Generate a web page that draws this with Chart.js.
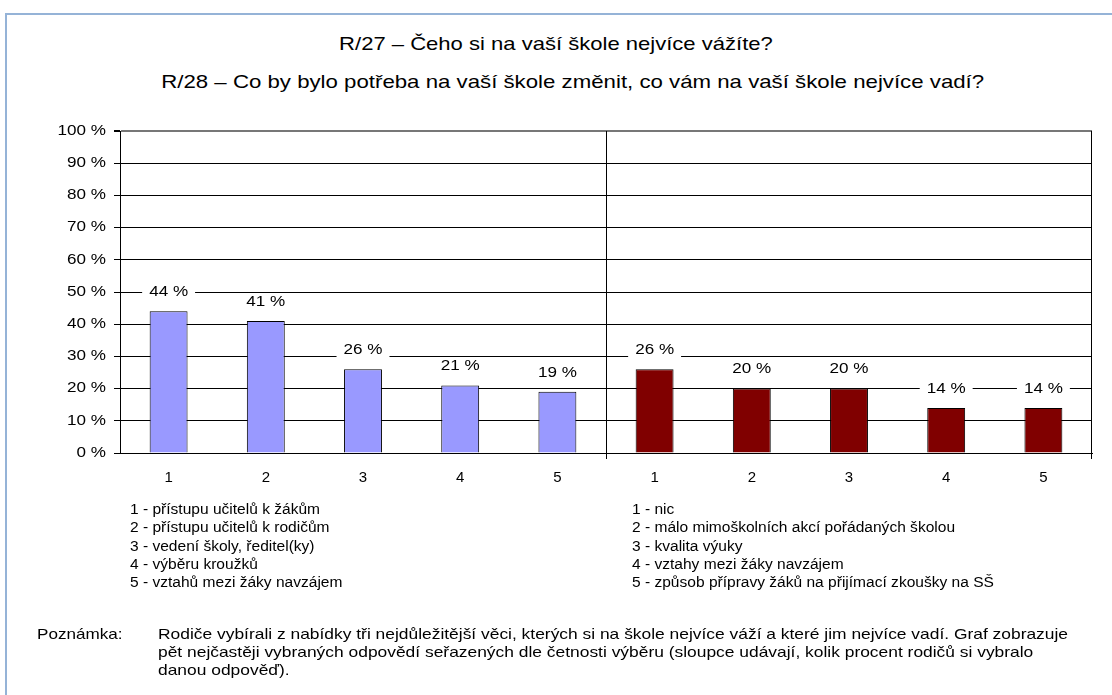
<!DOCTYPE html>
<html lang="cs">
<head>
<meta charset="utf-8">
<script src="https://cdn.jsdelivr.net/npm/chart.js@4"></script>
<style>
  html, body { margin: 0; padding: 0; background: #fff; overflow: hidden; }
  body { width: 1112px; height: 695px; position: relative; font-family: "Liberation Sans", Arial, sans-serif; color: #000; }
  #frame { position: absolute; left: 5px; top: 13px; width: 1200px; height: 800px; border-left: 2px solid #95b3d7; border-top: 2px solid #95b3d7; }
  #wrap { position: absolute; left: 0; top: 0; width: 1112px; height: 695px; }
  .title { position: absolute; left: 0; width: 1112px; text-align: center; font-size: 19px; }
  .title span { display: inline-block; transform: scaleX(1.16); }
  .legend { position: absolute; font-size: 14px; line-height: 18.3px; white-space: nowrap; transform: scaleX(1.11); transform-origin: left top; }
  .note { position: absolute; font-size: 14.5px; line-height: 18px; white-space: nowrap; transform-origin: left top; }
</style>
</head>
<body>
<div id="frame"></div>
<div class="title" style="top:33px"><span>R/27 – Čeho si na vaší škole nejvíce vážíte?</span></div>
<div class="title" style="top:71px; left:17px"><span style="transform: scaleX(1.17)">R/28 – Co by bylo potřeba na vaší škole změnit, co vám na vaší škole nejvíce vadí?</span></div>
<div id="wrap"><canvas id="chart"></canvas></div>
<div class="legend" id="legend-left" style="left:130px; top:500px"></div>
<div class="legend" id="legend-right" style="left:632px; top:500px"></div>
<div class="note" style="left:37px; top:625px; transform: scaleX(1.18)">Poznámka:</div>
<div class="note" style="left:158px; top:625px; transform: scaleX(1.2)">Rodiče vybírali z nabídky tři nejdůležitější věci, kterých si na škole nejvíce váží a které jim nejvíce vadí. Graf zobrazuje<br>pět nejčastěji vybraných odpovědí seřazených dle četnosti výběru (sloupce udávají, kolik procent rodičů si vybralo<br>danou odpověď).</div>
<script>
const categories = ['1', '2', '3', '4', '5', '1', '2', '3', '4', '5'];
const r27Values = [44, 41, 26, 21, 19];
const r28Values = [26, 20, 20, 14, 14];
const r27Answers = [
    'přístupu učitelů k žákům',
    'přístupu učitelů k rodičům',
    'vedení školy, ředitel(ky)',
    'výběru kroužků',
    'vztahů mezi žáky navzájem'
];
const r28Answers = [
    'nic',
    'málo mimoškolních akcí pořádaných školou',
    'kvalita výuky',
    'vztahy mezi žáky navzájem',
    'způsob přípravy žáků na přijímací zkoušky na SŠ'
];

document.getElementById('legend-left').innerHTML = r27Answers.map((a, i) => (i + 1) + ' - ' + a).join('<br>');
document.getElementById('legend-right').innerHTML = r28Answers.map((a, i) => (i + 1) + ' - ' + a).join('<br>');

const empty = Array(5).fill(null);
const stretch = 1.22; // the source text is a bit wide

function wideText(ctx, text, x, y) {
    ctx.save();
    ctx.translate(x, y);
    ctx.scale(stretch, 1);
    ctx.fillText(text, 0, 0);
    ctx.restore();
}

// value labels with white box, y tick labels, divider between the two questions
const decorations = {
    id: 'decorations',
    afterDatasetsDraw(chart) {
        const ctx = chart.ctx;
        const area = chart.chartArea;
        const x = chart.scales.x;
        const yScale = chart.scales.y;
        const midX = Math.round((x.getPixelForValue(4) + x.getPixelForValue(5)) / 2) + 0.5;
        ctx.save();
        ctx.strokeStyle = '#000';
        ctx.lineWidth = 1;
        ctx.beginPath();
        ctx.moveTo(midX, area.top);
        ctx.lineTo(midX, area.bottom + 6);
        ctx.moveTo(Math.round(area.right) - 0.5, area.top);
        ctx.lineTo(Math.round(area.right) - 0.5, area.bottom + 6);
        ctx.stroke();

        ctx.font = '14px "Liberation Sans", Arial, sans-serif';
        ctx.textBaseline = 'middle';

        ctx.textAlign = 'right';
        ctx.fillStyle = '#000';
        yScale.ticks.forEach((t) => {
            wideText(ctx, t.value + ' %', area.left - 14, yScale.getPixelForValue(t.value));
        });

        ctx.textAlign = 'center';
        chart.data.datasets.forEach((ds, di) => {
            chart.getDatasetMeta(di).data.forEach((bar, i) => {
                const v = ds.data[i];
                if (v === null) return;
                const text = v + ' %';
                const w = ctx.measureText(text).width * stretch + 14;
                const y = bar.y - 19;
                ctx.fillStyle = '#fff';
                ctx.fillRect(bar.x - w / 2, y - 8, w, 16);
                ctx.fillStyle = '#000';
                wideText(ctx, text, bar.x, y);
            });
        });
        ctx.restore();
    }
};

new Chart(document.getElementById('chart'), {
    type: 'bar',
    data: {
        labels: categories,
        datasets: [
            {
                label: 'R/27',
                data: r27Values.concat(empty),
                backgroundColor: '#9999ff',
                borderColor: '#000',
                borderWidth: 1
            },
            {
                label: 'R/28',
                data: empty.concat(r28Values),
                backgroundColor: '#800000',
                borderColor: '#000',
                borderWidth: 1
            }
        ]
    },
    options: {
        responsive: true,
        maintainAspectRatio: false,
        animation: false,
        grouped: false,
        barPercentage: 0.39,
        categoryPercentage: 1,
        layout: { padding: { left: 0, right: 20, top: 131, bottom: 202 } },
        plugins: {
            legend: { display: false },
            tooltip: { enabled: false }
        },
        scales: {
            x: {
                grid: { display: false },
                border: { color: '#000', width: 1 },
                ticks: { color: '#000', font: { size: 15, family: '"Liberation Sans", Arial' }, padding: 8 },
                afterFit: (scale) => { scale.height = 40; }
            },
            y: {
                min: 0,
                max: 100,
                ticks: {
                    stepSize: 10,
                    display: false
                },
                grid: {
                    color: (c) => c.tick && c.tick.value === 100 ? '#777' : '#000',
                    lineWidth: (c) => c.tick && c.tick.value === 100 ? 2 : 1,
                    tickLength: 6,
                    tickColor: '#000'
                },
                border: { color: '#000', width: 1 },
                afterFit: (scale) => { scale.width = 120; }
            }
        }
    },
    plugins: [decorations]
});
</script>
</body>
</html>
